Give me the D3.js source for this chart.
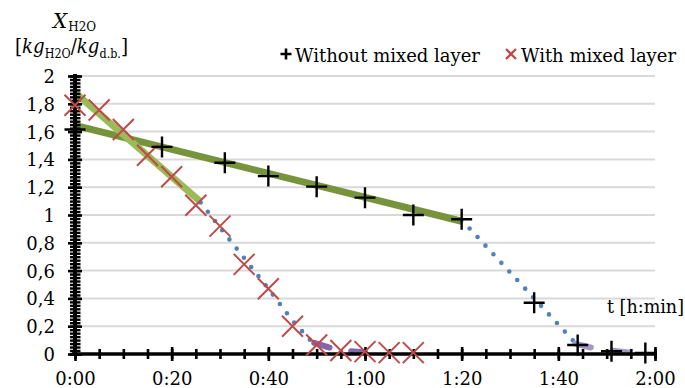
<!DOCTYPE html>
<html><head><meta charset="utf-8">
<script src="https://cdn.jsdelivr.net/npm/d3@7"></script>
<style>
html,body{margin:0;padding:0;background:#fff;}
text{font-family:"DejaVu Serif","Liberation Serif",serif;fill:#000;}
</style></head>
<body>
<svg id="chart" width="685" height="388"></svg>
<script>
// ---- data (time in minutes, moisture X in kg H2O / kg d.b.) ----
const withoutTime = [0, 18, 31, 40, 50, 60, 70, 80, 95, 104, 111, 118];
const withoutX    = [1.615, 1.49, 1.376, 1.28, 1.204, 1.125, 1.0, 0.969, 0.369, 0.065, 0.02, 0.008];
const withTime = [0, 5, 10, 15, 20, 25, 30, 35, 40, 45, 50, 55, 60, 65, 70];
const withX    = [1.79, 1.755, 1.615, 1.43, 1.275, 1.07, 0.92, 0.645, 0.47, 0.2, 0.065, 0.025, 0.017, 0.01, 0.01];
// fitted segments
const fitWithoutTime = [0, 80];     const fitWithoutX = [1.645, 0.955];
const fitWithTime    = [0, 26];     const fitWithX    = [1.88, 1.095];
const dotWithoutTime = [80, 103.5]; const dotWithoutX = [0.965, 0.08];
const dotWithTime    = [26, 30, 35, 40, 45, 49.3]; const dotWithX = [1.09, 0.91, 0.69, 0.47, 0.24, 0.075];
const endWithoutTime = [103.5, 107.6, 111.7, 116]; const endWithoutX = [0.075, 0.041, 0.022, 0.005];
const endWithTime    = [49.5, 54, 60];             const endWithX    = [0.08, 0.035, 0.012];
// ticks
const yMajor = [0, 0.2, 0.4, 0.6, 0.8, 1, 1.2, 1.4, 1.6, 1.8, 2];
const xMajor = [0, 20, 40, 60, 80, 100, 120];
const legendLabels = ["Without mixed layer", "With mixed layer"];

const svg = d3.select("#chart");
const x = d3.scaleLinear().domain([0, 120]).range([75, 655]);
const y = d3.scaleLinear().domain([0, 2]).range([354, 76]);
const zip = (a, b) => a.map((t, i) => [t, b[i]]);
const line = d3.line().x(d => x(d[0])).y(d => y(d[1]));

// gridlines
svg.append("g").selectAll("line").data(yMajor.filter(v => v > 0)).join("line")
  .attr("x1", x(0)).attr("x2", x(120)).attr("y1", d => y(d)).attr("y2", d => y(d))
  .attr("stroke", "#d9d9d9").attr("stroke-width", 2);

// fitted lines
svg.append("path").attr("d", line(zip(fitWithoutTime, fitWithoutX)))
  .attr("fill", "none").attr("stroke", "#77933c").attr("stroke-width", 7);
svg.append("path").attr("d", line(zip(fitWithTime, fitWithX)))
  .attr("fill", "none").attr("stroke", "#9bbb59").attr("stroke-width", 7);
// dotted
[[dotWithoutTime, dotWithoutX], [dotWithTime, dotWithX]].forEach(([t, v]) => {
  svg.append("path").attr("d", line(zip(t, v)))
    .attr("fill", "none").attr("stroke", "#4f81bd").attr("stroke-width", 4.6)
    .attr("stroke-linecap", "round").attr("stroke-dasharray", "0 11.7");
});
// purple dashed ends
const curve = d3.line().x(d => x(d[0])).y(d => y(d[1])).curve(d3.curveMonotoneX);
svg.append("path").attr("d", curve(zip(endWithoutTime, endWithoutX)))
  .attr("fill", "none").attr("stroke", "#a498c8").attr("stroke-width", 6)
  .attr("stroke-linecap", "round").attr("stroke-dasharray", "16 22");
svg.append("path").attr("d", curve(zip(endWithTime, endWithX)))
  .attr("fill", "none").attr("stroke", "#8467a8").attr("stroke-width", 6)
  .attr("stroke-linecap", "round").attr("stroke-dasharray", "16 22");

// y axis
const yMinor = d3.range(0, 2.0001, 0.025);
const yAx = svg.append("g").attr("transform", `translate(${x(0)},0)`)
  .call(d3.axisLeft(y).tickValues(yMinor).tickFormat("").tickSize(0));
yAx.select(".domain").remove();
yAx.selectAll(".tick line").attr("x1", -5).attr("x2", 5.5).attr("stroke", "#000").attr("stroke-width", 2.4);
yAx.append("line").attr("y1", y(2) - 2).attr("y2", y(0) + 2).attr("stroke", "#000").attr("stroke-width", 4);
const yLab = svg.append("g").attr("transform", `translate(${x(0)},0)`)
  .call(d3.axisLeft(y).tickValues(yMajor).tickSize(0).tickPadding(0)
    .tickFormat(v => String(Math.round(v * 10) / 10).replace(".", ",")));
yLab.select(".domain").remove();
yLab.selectAll(".tick line").attr("x1", -7).attr("x2", 7).attr("stroke", "#000").attr("stroke-width", 2.6);
yLab.selectAll(".tick text").attr("x", -20).attr("dy", "0.36em")
  .style("font-family", '"DejaVu Serif",serif').style("font-size", "18px").attr("fill", "#000");

// x axis
const xMinor = d3.range(0, 121, 5);
const xAx = svg.append("g").attr("transform", `translate(0,${y(0)})`)
  .call(d3.axisBottom(x).tickValues(xMinor).tickFormat("").tickSize(0));
xAx.select(".domain").remove();
xAx.selectAll(".tick line").attr("y1", -5).attr("y2", 5).attr("stroke", "#000").attr("stroke-width", 2.6);
xAx.append("line").attr("x1", x(0) - 3).attr("x2", x(120) + 2).attr("stroke", "#000").attr("stroke-width", 3.6);
const fmt = m => `${Math.floor(m / 60)}:${String(m % 60).padStart(2, "0")}`;
const xLab = svg.append("g").attr("transform", `translate(0,${y(0)})`)
  .call(d3.axisBottom(x).tickValues(xMajor).tickSize(0).tickPadding(0).tickFormat(fmt));
xLab.select(".domain").remove();
xLab.selectAll(".tick line").attr("y1", -7).attr("y2", 7).attr("stroke", "#000").attr("stroke-width", 2.6);
xLab.selectAll(".tick text").attr("y", 31).attr("dy", 0)
  .style("font-family", '"DejaVu Serif",serif').style("font-size", "18px").attr("fill", "#000");

// markers
const plus = (g, s, w, c) => g.append("path").attr("d", `M${-s},0H${s}M0,${-s}V${s}`)
  .attr("stroke", c).attr("stroke-width", w).attr("fill", "none");
const cross = (g, s, w, c) => g.append("path").attr("d", `M${-s},${-s}L${s},${s}M${-s},${s}L${s},${-s}`)
  .attr("stroke", c).attr("stroke-width", w).attr("fill", "none");
svg.append("g").selectAll("g").data(zip(withTime, withX)).join("g")
  .attr("transform", d => `translate(${x(d[0])},${y(d[1])})`)
  .each(function () { cross(d3.select(this), 10.5, 2, "#be4b48"); });
svg.append("g").selectAll("g").data(zip(withoutTime, withoutX)).join("g")
  .attr("transform", d => `translate(${x(d[0])},${y(d[1])})`)
  .each(function () { plus(d3.select(this), 10.5, 2.4, "#000"); });

// legend
const fit = (sel, w) => { const L = sel.node().getComputedTextLength(); if (L > w) sel.attr("textLength", w).attr("lengthAdjust", "spacingAndGlyphs"); };
const lg1 = svg.append("g").attr("transform", "translate(286,54)");
plus(lg1, 5.5, 2.6, "#000");
fit(lg1.append("text").attr("x", 9).attr("y", 7.5).style("font-size", "18px").text(legendLabels[0]), 185);
const lg2 = svg.append("g").attr("transform", "translate(511,54)");
cross(lg2, 5, 2.3, "#be4b48");
fit(lg2.append("text").attr("x", 10).attr("y", 7.5).style("font-size", "18px").text(legendLabels[1]), 155);

// axis titles, built piece by piece
function piecewise(x0, base, size, subShift, parts, maxW) {
  const g = svg.append("g");
  let cx = x0;
  parts.forEach(p => {
    const t = g.append("text").attr("x", cx).attr("y", base + (p.sub ? subShift : 0))
      .style("font-size", p.sub ? "12px" : size + "px").style("font-style", p.it ? "italic" : "normal").text(p.s);
    cx += t.node().getComputedTextLength() + (p.gap || 0);
  });
  const w = cx - x0;
  if (maxW && w > maxW) g.attr("transform", `translate(${x0},0) scale(${maxW / w},1) translate(${-x0},0)`);
}
piecewise(53, 28, 20, 3, [{ s: "X", it: true, gap: 1 }, { s: "H2O", sub: true }]);
piecewise(15, 53, 19.5, 5, [
  { s: "[" }, { s: "kg", it: true }, { s: "H2O", sub: true }, { s: "/" },
  { s: "kg", it: true }, { s: "d.b.", sub: true }, { s: "]" }], 113);
fit(svg.append("text").attr("x", 607).attr("y", 313).style("font-size", "18px").text("t [h:min]"), 77);
</script>
</body></html>
